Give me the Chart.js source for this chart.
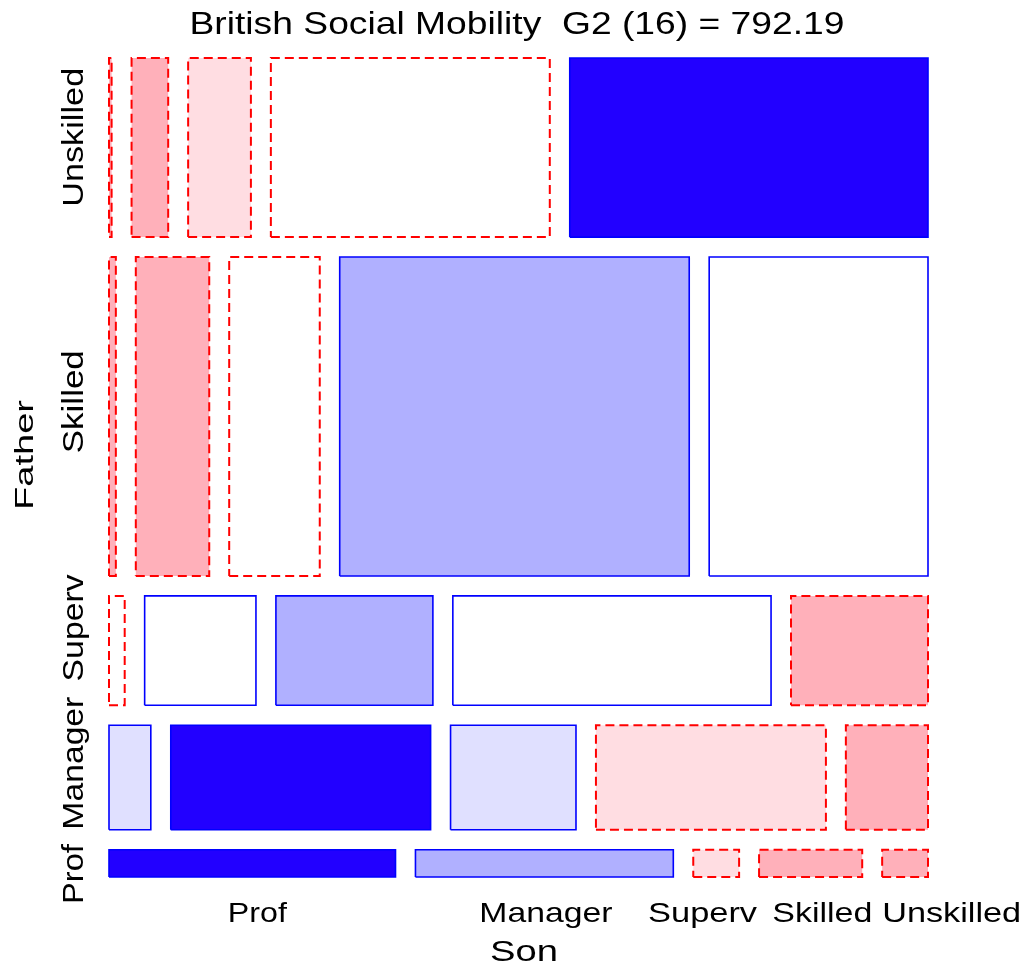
<!DOCTYPE html>
<html><head><meta charset="utf-8">
<script src="https://cdn.jsdelivr.net/npm/chart.js@4.4.0/dist/chart.umd.min.js"></script>
<style>html,body{margin:0;padding:0;background:#fff;} #wrap{width:1029px;height:969px;position:relative;}</style>
</head><body><div id="wrap"><canvas id="c"></canvas></div>
<script>
// ---- data ----
const fatherCategories = ['Prof', 'Manager', 'Superv', 'Skilled', 'Unskilled'];
const sonCategories = ['Prof', 'Manager', 'Superv', 'Skilled', 'Unskilled'];
const countsProf      = [50, 45, 8, 18, 8];
const countsManager   = [28, 174, 84, 154, 55];
const countsSuperv    = [11, 78, 110, 223, 96];
const countsSkilled   = [14, 150, 185, 714, 447];
const countsUnskilled = [3, 42, 72, 320, 411];
// shading level (0 none, 1 light, 2 medium, 3 dark)
const shadeProf      = [3, 2, 1, 2, 2];
const shadeManager   = [1, 3, 1, 1, 2];
const shadeSuperv    = [0, 0, 2, 0, 2];
const shadeSkilled   = [2, 2, 0, 2, 0];
const shadeUnskilled = [2, 2, 1, 0, 3];
const titleText = 'British Social Mobility  G2 (16) = 792.19';
const xTitle = 'Son';
const yTitle = 'Father';

// ---- layout / style (not data) ----
const GAP = 0.027;
const xLabelPos = [0.2007, 0.591, 0.803, 0.965, 1.140];
const xLabelW = [59, 133, 109, 100, 139];
const yLabelPos = [0.004, 0.154, 0.337, 0.643, 1.0007];
const yLabelW = [60, 133, 107, 103, 139];
const blueFill = ['#FFFFFF', '#E0E0FF', '#B0B0FF', '#2200FF'];
const redFill = ['#FFFFFF', '#FFDDE2', '#FFB0BA', '#FF0000'];

const rows = [countsProf, countsManager, countsSuperv, countsSkilled, countsUnskilled];
const shades = [shadeProf, shadeManager, shadeSuperv, shadeSkilled, shadeUnskilled];
const rowTot = rows.map(r => r.reduce((a, b) => a + b, 0));
const N = rowTot.reduce((a, b) => a + b, 0);
const colTot = sonCategories.map((_, j) => rows.reduce((a, r) => a + r[j], 0));

const datasets = [];
let yc = 0;
rows.forEach((r, i) => {
  const y0 = yc, y1 = yc + rowTot[i] / N;
  let xc = 0;
  r.forEach((v, j) => {
    const x0 = xc, x1 = xc + v / rowTot[i];
    const expected = rowTot[i] * colTot[j] / N;
    const pos = v >= expected;
    const lvl = shades[i][j];
    datasets.push({
      type: 'line',
      label: fatherCategories[i] + ' / ' + sonCategories[j],
      data: [{x: x0, y: y0}, {x: x1, y: y0}, {x: x1, y: y1}, {x: x0, y: y1}, {x: x0, y: y0}],
      showLine: true,
      fill: 'shape',
      backgroundColor: pos ? blueFill[lvl] : redFill[lvl],
      borderColor: pos ? '#0000FF' : '#FF0000',
      borderWidth: pos ? 1.6 : 2,
      borderDash: pos ? [] : [9, 5],
      borderJoinStyle: 'miter',
      borderCapStyle: 'butt',
      pointRadius: 0,
      pointHoverRadius: 0,
      tension: 0,
      clip: false
    });
    xc = x1 + GAP;
  });
  yc = y1 + GAP;
});

const FONT = '"Liberation Sans", Arial, Helvetica, sans-serif';
function drawStretched(ctx, text, x, y, size, width, rotate) {
  ctx.save();
  ctx.font = size + 'px ' + FONT;
  const w = ctx.measureText(text).width;
  ctx.translate(x, y);
  if (rotate) ctx.rotate(-Math.PI / 2);
  ctx.scale(width / w, 1);
  ctx.textAlign = 'center';
  ctx.textBaseline = 'alphabetic';
  ctx.fillStyle = '#000';
  ctx.fillText(text, 0, 0);
  ctx.restore();
}

const labelsPlugin = {
  id: 'mosaicLabels',
  afterDraw(chart) {
    const ctx = chart.ctx;
    const xs = chart.scales.x, ys = chart.scales.y;
    drawStretched(ctx, titleText, 517, 34, 32, 655, false);
    sonCategories.forEach((t, j) => {
      drawStretched(ctx, t, xs.getPixelForValue(xLabelPos[j]), 922, 27.5, xLabelW[j], false);
    });
    fatherCategories.forEach((t, i) => {
      drawStretched(ctx, t, 83, ys.getPixelForValue(yLabelPos[i]), 29, yLabelW[i], true);
    });
    drawStretched(ctx, xTitle, 524, 961, 29, 68, false);
    drawStretched(ctx, yTitle, 33, 455, 26, 110, true);
  }
};

new Chart(document.getElementById('c'), {
  type: 'scatter',
  data: { datasets },
  options: {
    responsive: true,
    maintainAspectRatio: false,
    animation: false,
    layout: { padding: { left: 109, right: 101, top: 58, bottom: 92 } },
    scales: {
      x: { type: 'linear', min: 0, max: 1 + 4 * GAP, display: false },
      y: { type: 'linear', min: 0, max: 1 + 4 * GAP, display: false }
    },
    plugins: {
      legend: { display: false },
      title: { display: false },
      tooltip: { enabled: false }
    },
    events: []
  },
  plugins: [labelsPlugin]
});
</script>
</body></html>
